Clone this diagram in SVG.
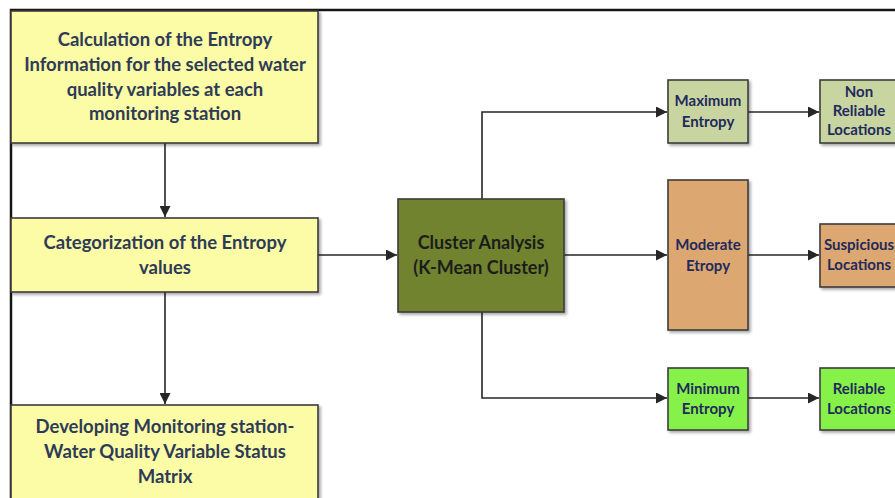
<svg xmlns="http://www.w3.org/2000/svg" width="895" height="498" viewBox="0 0 895 498">
  <defs>
    <marker id="arrow" viewBox="0 0 10 10" refX="10" refY="5" markerWidth="11" markerHeight="11" markerUnits="userSpaceOnUse" orient="auto">
      <path d="M0,0 L10,5 L0,10 Z" fill="#262626"/>
    </marker>
    <filter id="shadow" x="-10%" y="-10%" width="130%" height="130%">
      <feGaussianBlur in="SourceAlpha" stdDeviation="1.5"/>
      <feOffset dx="2" dy="2" result="b"/>
      <feComponentTransfer><feFuncA type="linear" slope="0.35"/></feComponentTransfer>
      <feMerge><feMergeNode/><feMergeNode in="SourceGraphic"/></feMerge>
    </filter>
  </defs>
  <style>
    .box { stroke: #3c3c3c; stroke-width: 1.6; filter: url(#shadow); }
    .yellow { fill: #fcfba6; }
    .olive { fill: #71832e; }
    .sage { fill: #c9d5a1; }
    .tan { fill: #dca76f; }
    .green { fill: #86f24a; }
    .big { font-family: Lato, "Liberation Sans", sans-serif; font-weight: bold; font-size: 18.5px; fill: #2e3b57; text-anchor: middle; }
    .mid { font-family: Lato, "Liberation Sans", sans-serif; font-weight: bold; font-size: 18px; fill: #1c1c1c; text-anchor: middle; }
    .small { font-family: Lato, "Liberation Sans", sans-serif; font-weight: bold; font-size: 15px; fill: #222a5c; text-anchor: middle; }
    .line { stroke: #262626; stroke-width: 1.6; fill: none; }
    .frame { stroke: #151515; stroke-width: 2.5; fill: none; }
  </style>

  <rect width="895" height="498" fill="#ffffff"/>
  <!-- outer frame (top and left edges) -->
  <path class="frame" d="M11,498 L11,10 L895,10"/>

  <g id="connectors">
    <line class="line" x1="165" y1="143" x2="165" y2="217" marker-end="url(#arrow)"/>
    <line class="line" x1="165" y1="292" x2="165" y2="404" marker-end="url(#arrow)"/>
    <line class="line" x1="318" y1="255" x2="397" y2="255" marker-end="url(#arrow)"/>
    <polyline class="line" points="482,199 482,112 667,112" marker-end="url(#arrow)"/>
    <line class="line" x1="564" y1="255" x2="667" y2="255" marker-end="url(#arrow)"/>
    <polyline class="line" points="482,312 482,398 667,398" marker-end="url(#arrow)"/>
    <line class="line" x1="748" y1="112" x2="819" y2="112" marker-end="url(#arrow)"/>
    <line class="line" x1="748" y1="255" x2="819" y2="255" marker-end="url(#arrow)"/>
    <line class="line" x1="748" y1="398" x2="819" y2="398" marker-end="url(#arrow)"/>
  </g>

  <g id="entropy-calculation">
    <rect class="box yellow" x="11" y="11" width="307" height="132"/>
    <text class="big" x="165" y="46">Calculation of the Entropy</text>
    <text class="big" x="165" y="71">Information for the selected water</text>
    <text class="big" x="165" y="96">quality variables at each</text>
    <text class="big" x="165" y="120">monitoring station</text>
  </g>

  <g id="entropy-categorization">
    <rect class="box yellow" x="11" y="218" width="307" height="74"/>
    <text class="big" x="165" y="249">Categorization of the Entropy</text>
    <text class="big" x="165" y="274">values</text>
  </g>

  <g id="status-matrix">
    <rect class="box yellow" x="11" y="405" width="307" height="100"/>
    <text class="big" x="165" y="433">Developing Monitoring station-</text>
    <text class="big" x="165" y="458">Water Quality Variable Status</text>
    <text class="big" x="165" y="483">Matrix</text>
  </g>

  <g id="cluster-analysis">
    <rect class="box olive" x="398" y="199" width="166" height="113"/>
    <text class="mid" x="481" y="249">Cluster Analysis</text>
    <text class="mid" x="481" y="274">(K-Mean Cluster)</text>
  </g>

  <g id="maximum-entropy">
    <rect class="box sage" x="668" y="80" width="80" height="63"/>
    <text class="small" x="708" y="106">Maximum</text>
    <text class="small" x="708" y="127">Entropy</text>
  </g>

  <g id="moderate-entropy">
    <rect class="box tan" x="668" y="180" width="80" height="150"/>
    <text class="small" x="708" y="250">Moderate</text>
    <text class="small" x="708" y="271">Etropy</text>
  </g>

  <g id="minimum-entropy">
    <rect class="box green" x="668" y="368" width="80" height="62"/>
    <text class="small" x="708" y="394">Minimum</text>
    <text class="small" x="708" y="414">Entropy</text>
  </g>

  <g id="non-reliable-locations">
    <rect class="box sage" x="820" y="80" width="80" height="63"/>
    <text class="small" x="859" y="97">Non</text>
    <text class="small" x="859" y="116">Reliable</text>
    <text class="small" x="859" y="135">Locations</text>
  </g>

  <g id="suspicious-locations">
    <rect class="box tan" x="820" y="224" width="80" height="63"/>
    <text class="small" x="859" y="250">Suspicious</text>
    <text class="small" x="859" y="270">Locations</text>
  </g>

  <g id="reliable-locations">
    <rect class="box green" x="820" y="368" width="80" height="62"/>
    <text class="small" x="859" y="394">Reliable</text>
    <text class="small" x="859" y="414">Locations</text>
  </g>
</svg>
